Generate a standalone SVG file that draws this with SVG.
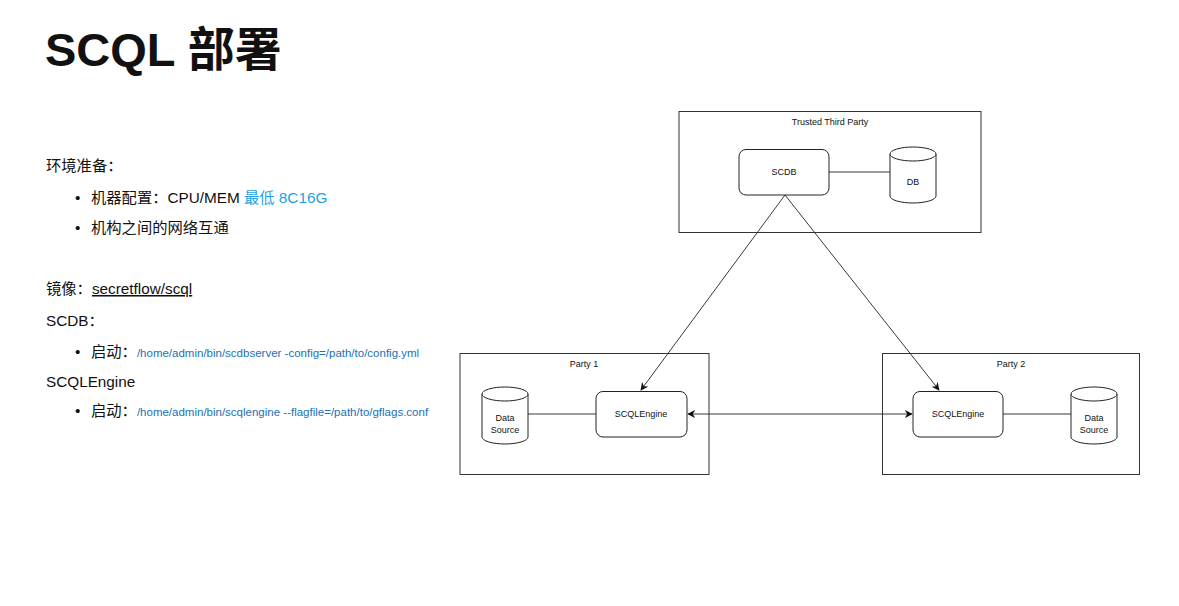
<svg xmlns="http://www.w3.org/2000/svg" width="1179" height="606" viewBox="0 0 1179 606">
<defs>
<style>
.t{font-family:"Liberation Sans","Noto Sans CJK SC",sans-serif;fill:#111}
.body{font-size:15.3px}
.path{font-size:11.5px;fill:#1b6fb6}
.hl{fill:#1f9fe6}
.lbl{font-family:"Liberation Sans",Arial,sans-serif;font-size:9px;fill:#111;text-anchor:middle}
.box{fill:none;stroke:#333;stroke-width:1}
.node{fill:#fff;stroke:#222;stroke-width:1}
.conn{fill:none;stroke:#222;stroke-width:0.9}
</style>
<marker id="ah" viewBox="0 0 10 10" refX="9" refY="5" markerWidth="8" markerHeight="8" markerUnits="userSpaceOnUse" orient="auto-start-reverse">
<path d="M0,0 L10,5 L0,10 L3,5 Z" fill="#111"/>
</marker>
</defs>
<rect width="1179" height="606" fill="#fff"/>

<g id="text-panel">
<text class="t" x="45" y="66" font-size="47" font-weight="bold">SCQL 部署</text>
<text class="t body" x="46" y="171">环境准备：</text>
<text class="t body" x="75" y="203">•</text>
<text class="t body" x="91" y="203">机器配置：CPU/MEM <tspan class="hl">最低 8C16G</tspan></text>
<text class="t body" x="75" y="233">•</text>
<text class="t body" x="91" y="233">机构之间的网络互通</text>
<text class="t body" x="46" y="294">镜像：<tspan text-decoration="underline">secretflow/scql</tspan></text>
<text class="t body" x="46" y="326">SCDB：</text>
<text class="t body" x="75" y="357" fill="#555">•</text>
<text class="t body" x="91" y="357">启动：<tspan class="path">/home/admin/bin/scdbserver -config=/path/to/config.yml</tspan></text>
<text class="t body" x="46" y="387">SCQLEngine</text>
<text class="t body" x="75" y="416" fill="#555">•</text>
<text class="t body" x="91" y="416">启动：<tspan class="path">/home/admin/bin/scqlengine --flagfile=/path/to/gflags.conf</tspan></text>
</g>

<g id="ttp">
<rect class="box" x="679" y="111.5" width="302" height="121"/>
<text class="lbl" x="830" y="125">Trusted Third Party</text>
</g>
<g id="party1">
<rect class="box" x="460" y="353.5" width="249" height="121"/>
<text class="lbl" x="584" y="367">Party 1</text>
</g>
<g id="party2">
<rect class="box" x="882.5" y="353.5" width="257" height="121"/>
<text class="lbl" x="1011" y="367">Party 2</text>
</g>

<g id="connectors">
<line class="conn" x1="829" y1="172" x2="890" y2="172"/>
<line class="conn" x1="528" y1="414" x2="596" y2="414"/>
<line class="conn" x1="1003" y1="414" x2="1072" y2="414"/>
<line class="conn" x1="688" y1="414" x2="912" y2="414" marker-start="url(#ah)" marker-end="url(#ah)"/>
<line class="conn" x1="785" y1="195" x2="641" y2="390" marker-end="url(#ah)"/>
<line class="conn" x1="785" y1="195" x2="939" y2="390" marker-end="url(#ah)"/>
</g>

<g id="scdb">
<rect class="node" x="739" y="149.5" width="90" height="45.5" rx="7"/>
<text class="lbl" x="784" y="175">SCDB</text>
</g>
<g id="db">
<path class="node" d="M890,154 A23,7 0 0 1 936,154 L936,196 A23,7 0 0 1 890,196 Z"/>
<path class="node" fill="none" d="M890,154 A23,7 0 0 0 936,154"/>
<text class="lbl" x="913" y="185">DB</text>
</g>

<g id="engine1">
<rect class="node" x="596" y="391.5" width="91" height="45.5" rx="7"/>
<text class="lbl" x="641" y="417">SCQLEngine</text>
</g>
<g id="datasource1">
<path class="node" d="M482,394 A23,7 0 0 1 528,394 L528,437 A23,7 0 0 1 482,437 Z"/>
<path class="node" fill="none" d="M482,394 A23,7 0 0 0 528,394"/>
<text class="lbl" x="505" y="421">Data</text>
<text class="lbl" x="505" y="433">Source</text>
</g>

<g id="engine2">
<rect class="node" x="913" y="391.5" width="90" height="45.5" rx="7"/>
<text class="lbl" x="958" y="417">SCQLEngine</text>
</g>
<g id="datasource2">
<path class="node" d="M1071,394 A23,7 0 0 1 1117,394 L1117,437 A23,7 0 0 1 1071,437 Z"/>
<path class="node" fill="none" d="M1071,394 A23,7 0 0 0 1117,394"/>
<text class="lbl" x="1094" y="421">Data</text>
<text class="lbl" x="1094" y="433">Source</text>
</g>
</svg>
